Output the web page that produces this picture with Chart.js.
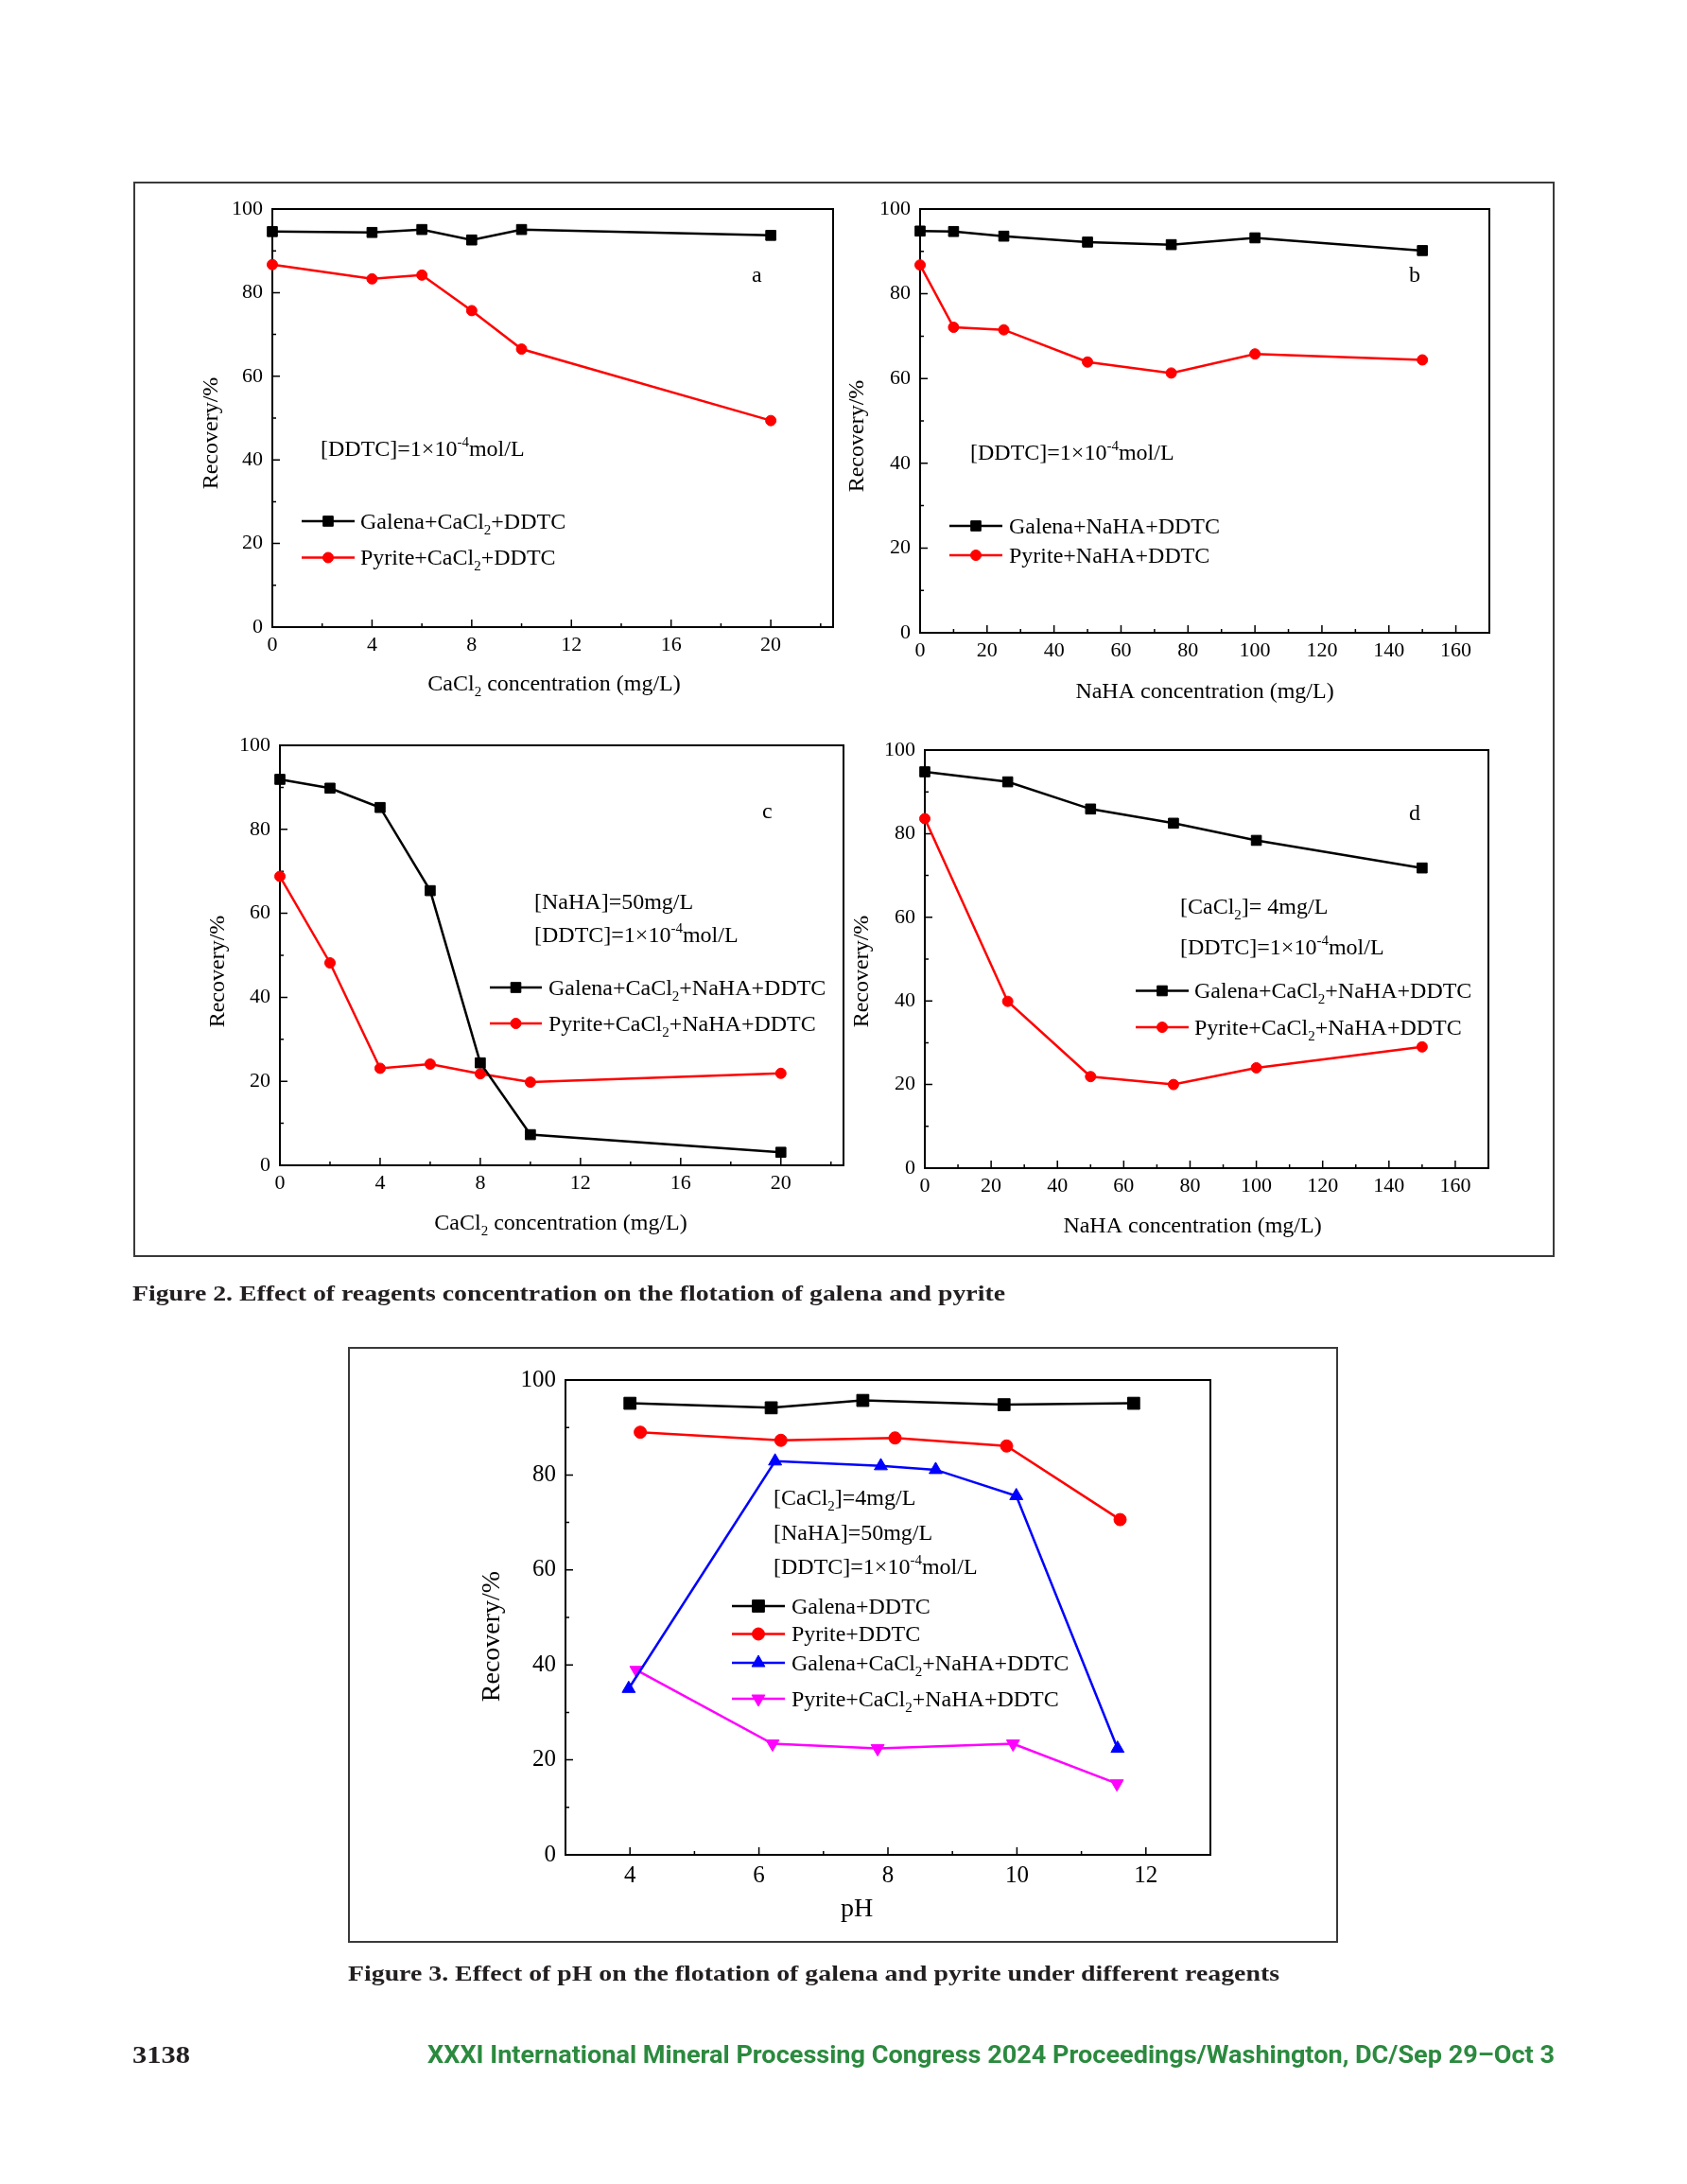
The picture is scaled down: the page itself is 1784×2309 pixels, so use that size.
<!DOCTYPE html>
<html>
<head>
<meta charset="utf-8">
<script src="https://cdn.jsdelivr.net/npm/chart.js@4.4.1/dist/chart.umd.min.js"></script>
<style>
html, body { margin: 0; padding: 0; background: #fff; }
body { width: 1784px; height: 2309px; position: relative; overflow: hidden; }
.box { position: absolute; border: 2px solid #3a3a3a; box-sizing: border-box; }
canvas.layer { position: absolute; left: 0; top: 0; }
.txt { position: absolute; white-space: nowrap; line-height: 1; transform-origin: 0 0; }
.cap { font-family: "Liberation Serif", serif; font-weight: bold; font-size: 24px; color: #231f20; }
.foot { font-family: Roboto, sans-serif; font-weight: bold; font-size: 25px; color: #2b8a3e; }
</style>
</head>
<body>
<div class="box" style="left:141px;top:192px;width:1503px;height:1137px"></div>
<div class="box" style="left:368px;top:1424px;width:1047px;height:630px"></div>

<canvas id="chartA" class="layer" width="1784" height="2309"></canvas>
<canvas id="chartB" class="layer" width="1784" height="2309"></canvas>
<canvas id="chartC" class="layer" width="1784" height="2309"></canvas>
<canvas id="chartD" class="layer" width="1784" height="2309"></canvas>
<canvas id="chartE" class="layer" width="1784" height="2309"></canvas>

<div class="txt cap" data-w="923" style="left:140px;top:1355px">Figure 2. Effect of reagents concentration on the flotation of galena and pyrite</div>
<div class="txt cap" data-w="985" style="left:368px;top:2074px">Figure 3. Effect of pH on the flotation of galena and pyrite under different reagents</div>
<div class="txt cap" data-w="61" style="left:140px;top:2160px;font-size:26px">3138</div>
<div class="txt foot" data-w="1192" style="left:452px;top:2160px">XXXI International Mineral Processing Congress 2024 Proceedings/Washington, DC/Sep 29–Oct 3</div>

<script>
// ---- data ----
// (a) CaCl2 dosage, DDTC only
const aCaCl2 = [0, 4, 6, 8, 10, 20];
const aGalena = [94.6, 94.4, 95.1, 92.6, 95.1, 93.7];
const aPyrite = [86.7, 83.3, 84.2, 75.7, 66.5, 49.4];
// (b) NaHA dosage
const bNaHA = [0, 10, 25, 50, 75, 100, 150];
const bGalena = [94.8, 94.7, 93.6, 92.2, 91.6, 93.2, 90.2];
const bPyrite = [86.8, 72.1, 71.5, 63.9, 61.3, 65.8, 64.4];
// (c) CaCl2 dosage with NaHA
const cCaCl2 = [0, 2, 4, 6, 8, 10, 20];
const cGalena = [91.9, 89.8, 85.2, 65.4, 24.4, 7.3, 3.1];
const cPyrite = [68.8, 48.2, 23.1, 24.1, 21.8, 19.8, 21.9];
// (d) NaHA dosage with CaCl2
const dNaHA = [0, 25, 50, 75, 100, 150];
const dGalena = [94.8, 92.4, 85.9, 82.5, 78.4, 71.8];
const dPyrite = [83.6, 39.9, 21.9, 20.0, 24.0, 29.0];
// Figure 3, pH
const pHGalena = [4.0, 6.19, 7.61, 9.8, 11.81];
const galenaDDTC = [95.1, 94.15, 95.7, 94.8, 95.1];
const pHPyrite = [4.16, 6.34, 8.11, 9.84, 11.6];
const pyriteDDTC = [89.0, 87.3, 87.8, 86.1, 70.6];
const pHGalenaMix = [3.98, 6.25, 7.89, 8.74, 9.99, 11.56];
const galenaMix = [35.0, 82.9, 81.9, 81.1, 75.6, 22.4];
const pHPyriteMix = [4.1, 6.21, 7.84, 9.94, 11.55];
const pyriteMix = [38.9, 23.4, 22.4, 23.4, 15.0];

// tick labels
const recoveryTicks = [0, 20, 40, 60, 80, 100];
const cacl2Ticks = [0, 4, 8, 12, 16, 20];
const nahaTicks = [0, 20, 40, 60, 80, 100, 120, 140, 160];
const pHTicks = [4, 6, 8, 10, 12];

const SERIF = '"Liberation Serif", "Times New Roman", serif';

function pts(xs, ys) {
    return xs.map((x, i) => ({ x: x, y: ys[i] }));
}

function series(label, rich, xs, ys, color, style, r, rot) {
    return {
        label: label,
        rich: rich,
        data: pts(xs, ys),
        borderColor: color,
        backgroundColor: color,
        pointBackgroundColor: color,
        pointBorderColor: color,
        borderWidth: 2.5,
        pointBorderWidth: 1,
        pointStyle: style,
        pointRadius: r,
        pointRotation: rot || 0,
        tension: 0,
        clip: false
    };
}

// text with _{sub} and ^{sup} parts
function parts(str) {
    return str.split(/(_\{[^}]*\}|\^\{[^}]*\})/).filter(s => s).map(s => {
        if (s.startsWith('_{')) return { t: s.slice(2, -1), m: 'sub' };
        if (s.startsWith('^{')) return { t: s.slice(2, -1), m: 'sup' };
        return { t: s, m: '' };
    });
}

function drawRich(ctx, str, x, y, size, align) {
    const ps = parts(str);
    const small = Math.round(size * 0.62);
    let w = 0;
    ps.forEach(p => {
        ctx.font = (p.m ? small : size) + 'px ' + SERIF;
        p.w = ctx.measureText(p.t).width;
        w += p.w;
    });
    let cx = align === 'center' ? x - w / 2 : x;
    const base = y + size * 0.33;
    ctx.textBaseline = 'alphabetic';
    ctx.textAlign = 'left';
    ctx.fillStyle = '#000';
    ps.forEach(p => {
        ctx.font = (p.m ? small : size) + 'px ' + SERIF;
        let by = base;
        if (p.m === 'sub') by = base + size * 0.25;
        if (p.m === 'sup') by = base - size * 0.42;
        ctx.fillText(p.t, cx, by);
        cx += p.w;
    });
}

function overlay(spec) {
    return {
        id: 'overlay',
        beforeDatasetsDraw(chart) {
            const ctx = chart.ctx;
            const a = chart.chartArea;
            const xs = chart.scales.x, ys = chart.scales.y;
            ctx.save();
            ctx.strokeStyle = '#000';
            ctx.lineWidth = 2;
            ctx.strokeRect(a.left, a.top, a.right - a.left, a.bottom - a.top);
            ctx.lineWidth = 1.5;
            ctx.beginPath();
            // x ticks (inward)
            for (let v = Math.ceil(xs.min / spec.xMinor) * spec.xMinor; v <= xs.max + 1e-9; v += spec.xMinor) {
                const major = spec.xTicks.some(t => Math.abs(t - v) < 1e-9);
                const px = xs.getPixelForValue(v);
                ctx.moveTo(px, a.bottom);
                ctx.lineTo(px, a.bottom - (major ? 8 : 4));
            }
            // y ticks (inward)
            for (let v = 0; v <= 100; v += 10) {
                const py = ys.getPixelForValue(v);
                ctx.moveTo(a.left, py);
                ctx.lineTo(a.left + (v % 20 === 0 ? 8 : 4), py);
            }
            ctx.stroke();
            ctx.restore();
        },
        afterDatasetsDraw(chart) {
            const ctx = chart.ctx;
            ctx.save();
            // axis titles
            drawRich(ctx, spec.xTitle, spec.xTitlePos[0], spec.xTitlePos[1], spec.titleSize, 'center');
            ctx.save();
            ctx.translate(spec.yTitlePos[0], spec.yTitlePos[1]);
            ctx.rotate(-Math.PI / 2);
            drawRich(ctx, 'Recovery/%', 0, 0, spec.titleSize, 'center');
            ctx.restore();
            // notes
            spec.notes.forEach(n => drawRich(ctx, n[0], n[1], n[2], 24, 'left'));
            // legend
            const lg = spec.legend;
            chart.data.datasets.forEach((ds, i) => {
                const y = lg.rows[i];
                ctx.strokeStyle = ds.borderColor;
                ctx.fillStyle = ds.borderColor;
                ctx.lineWidth = ds.borderWidth;
                ctx.beginPath();
                ctx.moveTo(lg.x1, y);
                ctx.lineTo(lg.x2, y);
                ctx.stroke();
                ctx.lineWidth = 1;
                Chart.helpers.drawPoint(ctx, {
                    pointStyle: ds.pointStyle,
                    radius: ds.pointRadius,
                    rotation: ds.pointRotation,
                    borderWidth: 1
                }, (lg.x1 + lg.x2) / 2, y);
                drawRich(ctx, ds.rich, lg.tx, y, 24, 'left');
            });
            ctx.restore();
        }
    };
}

function buildChart(id, spec) {
    const W = 1784, H = 2309, yW = 80, xH = 60;
    const p = spec.plot;
    return new Chart(document.getElementById(id), {
        type: 'line',
        data: { datasets: spec.datasets },
        options: {
            responsive: false,
            animation: false,
            devicePixelRatio: 1,
            events: [],
            layout: { padding: { left: p.l - yW, top: p.t, right: W - p.r, bottom: H - p.b - xH } },
            plugins: { legend: { display: false }, tooltip: { enabled: false } },
            scales: {
                x: {
                    type: 'linear',
                    min: spec.xMin,
                    max: spec.xMax,
                    grid: { display: false, drawTicks: false },
                    border: { display: false },
                    ticks: {
                        padding: spec.xPad,
                        color: '#000',
                        maxRotation: 0,
                        autoSkip: false,
                        font: { family: SERIF, size: spec.tickSize }
                    },
                    afterBuildTicks: s => { s.ticks = spec.xTicks.map(v => ({ value: v })); },
                    afterFit: s => { s.height = xH; }
                },
                y: {
                    type: 'linear',
                    min: 0,
                    max: 100,
                    grid: { display: false, drawTicks: false },
                    border: { display: false },
                    ticks: {
                        padding: 10,
                        color: '#000',
                        font: { family: SERIF, size: spec.tickSize }
                    },
                    afterBuildTicks: s => { s.ticks = recoveryTicks.map(v => ({ value: v })); },
                    afterFit: s => { s.width = yW; }
                }
            }
        },
        plugins: [overlay(spec)]
    });
}

buildChart('chartA', {
    plot: { l: 288, t: 221, r: 881, b: 663 },
    xMin: 0, xMax: 22.5, xTicks: cacl2Ticks, xMinor: 2, xPad: 6, tickSize: 22, titleSize: 24,
    xTitle: 'CaCl_{2} concentration (mg/L)', xTitlePos: [586, 722], yTitlePos: [222, 458],
    notes: [['a', 795, 290], ['[DDTC]=1×10^{-4}mol/L', 339, 474]],
    legend: { x1: 319, x2: 375, tx: 381, rows: [551, 589.5] },
    datasets: [
        series('Galena+CaCl2+DDTC', 'Galena+CaCl_{2}+DDTC', aCaCl2, aGalena, '#000000', 'rect', 7.5),
        series('Pyrite+CaCl2+DDTC', 'Pyrite+CaCl_{2}+DDTC', aCaCl2, aPyrite, '#ff0000', 'circle', 5.5)
    ]
});

buildChart('chartB', {
    plot: { l: 973, t: 221, r: 1575, b: 669 },
    xMin: 0, xMax: 170, xTicks: nahaTicks, xMinor: 10, xPad: 6, tickSize: 22, titleSize: 24,
    xTitle: 'NaHA concentration (mg/L)', xTitlePos: [1274, 730], yTitlePos: [905, 461],
    notes: [['b', 1490, 290], ['[DDTC]=1×10^{-4}mol/L', 1026, 478]],
    legend: { x1: 1004, x2: 1060, tx: 1067, rows: [556, 587] },
    datasets: [
        series('Galena+NaHA+DDTC', 'Galena+NaHA+DDTC', bNaHA, bGalena, '#000000', 'rect', 7.5),
        series('Pyrite+NaHA+DDTC', 'Pyrite+NaHA+DDTC', bNaHA, bPyrite, '#ff0000', 'circle', 5.5)
    ]
});

buildChart('chartC', {
    plot: { l: 296, t: 788, r: 892, b: 1232 },
    xMin: 0, xMax: 22.5, xTicks: cacl2Ticks, xMinor: 2, xPad: 6, tickSize: 22, titleSize: 24,
    xTitle: 'CaCl_{2} concentration (mg/L)', xTitlePos: [593, 1292], yTitlePos: [229, 1027],
    notes: [['c', 806, 857], ['[NaHA]=50mg/L', 565, 953], ['[DDTC]=1×10^{-4}mol/L', 565, 988]],
    legend: { x1: 518, x2: 573, tx: 580, rows: [1044, 1082] },
    datasets: [
        series('Galena+CaCl2+NaHA+DDTC', 'Galena+CaCl_{2}+NaHA+DDTC', cCaCl2, cGalena, '#000000', 'rect', 7.5),
        series('Pyrite+CaCl2+NaHA+DDTC', 'Pyrite+CaCl_{2}+NaHA+DDTC', cCaCl2, cPyrite, '#ff0000', 'circle', 5.5)
    ]
});

buildChart('chartD', {
    plot: { l: 978, t: 793, r: 1574, b: 1235 },
    xMin: 0, xMax: 170, xTicks: nahaTicks, xMinor: 10, xPad: 6, tickSize: 22, titleSize: 24,
    xTitle: 'NaHA concentration (mg/L)', xTitlePos: [1261, 1295], yTitlePos: [910, 1027],
    notes: [['d', 1490, 859], ['[CaCl_{2}]= 4mg/L', 1248, 958], ['[DDTC]=1×10^{-4}mol/L', 1248, 1001]],
    legend: { x1: 1201, x2: 1257, tx: 1263, rows: [1047.5, 1086] },
    datasets: [
        series('Galena+CaCl2+NaHA+DDTC', 'Galena+CaCl_{2}+NaHA+DDTC', dNaHA, dGalena, '#000000', 'rect', 7.5),
        series('Pyrite+CaCl2+NaHA+DDTC', 'Pyrite+CaCl_{2}+NaHA+DDTC', dNaHA, dPyrite, '#ff0000', 'circle', 5.5)
    ]
});

buildChart('chartE', {
    plot: { l: 598, t: 1459, r: 1280, b: 1961 },
    xMin: 3, xMax: 13, xTicks: pHTicks, xMinor: 1, xPad: 7, tickSize: 25, titleSize: 28,
    xTitle: 'pH', xTitlePos: [906, 2017], yTitlePos: [519, 1730],
    notes: [['[CaCl_{2}]=4mg/L', 818, 1583], ['[NaHA]=50mg/L', 818, 1620], ['[DDTC]=1×10^{-4}mol/L', 818, 1656]],
    legend: { x1: 774, x2: 830, tx: 837, rows: [1698, 1727.5, 1758, 1796] },
    datasets: [
        series('Galena+DDTC', 'Galena+DDTC', pHGalena, galenaDDTC, '#000000', 'rect', 9),
        series('Pyrite+DDTC', 'Pyrite+DDTC', pHPyrite, pyriteDDTC, '#ff0000', 'circle', 6.5),
        series('Galena+CaCl2+NaHA+DDTC', 'Galena+CaCl_{2}+NaHA+DDTC', pHGalenaMix, galenaMix, '#0000ff', 'triangle', 8),
        series('Pyrite+CaCl2+NaHA+DDTC', 'Pyrite+CaCl_{2}+NaHA+DDTC', pHPyriteMix, pyriteMix, '#ff00ff', 'triangle', 8, 180)
    ]
});

// squeeze captions to the printed widths
document.querySelectorAll('[data-w]').forEach(el => {
    const w = el.getBoundingClientRect().width;
    el.style.transform = 'scaleX(' + (el.dataset.w / w) + ')';
});
</script>
</body>
</html>
